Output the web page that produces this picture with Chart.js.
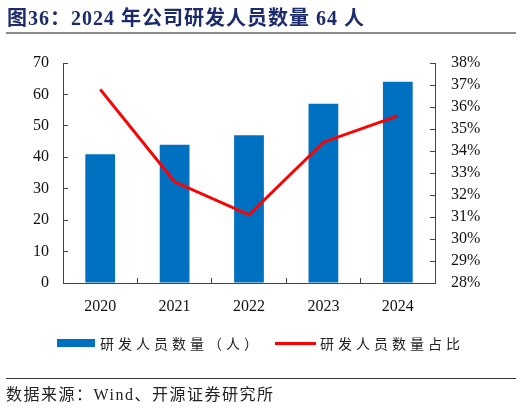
<!DOCTYPE html>
<html>
<head>
<meta charset="utf-8">
<script src="https://cdn.jsdelivr.net/npm/chart.js@4"></script>
<style>
    body { margin: 0; background: #fff; }
    #wrap { position: relative; width: 522px; height: 408px; overflow: hidden; }
    #chart { position: absolute; left: 0; top: 0; }
    .titulo { position: absolute; left: 7px; top: 2px; font: bold 20px "Liberation Serif", "Noto Sans CJK SC"; color: #1b2b6b; white-space: nowrap; letter-spacing: 1px; }
    .regla { position: absolute; left: 6px; width: 510px; }
    .leyenda { position: absolute; top: 333px; left: 0; width: 522px; height: 20px; font: 14px "Noto Sans CJK SC"; color: #222; letter-spacing: 4px; }
    .fuente { position: absolute; left: 6px; top: 381px; font: 16px "Liberation Serif", "Noto Sans CJK SC"; color: #222; letter-spacing: 1.5px; white-space: nowrap; }
</style>
</head>
<body>
<div id="wrap">
    <canvas id="chart" width="522" height="408"></canvas>
    <div class="titulo">图36：2024 年公司研发人员数量 64 人</div>
    <div class="regla" style="top:32px;height:2px;background:#8a8a8a"></div>
    <div class="leyenda" id="leyenda"></div>
    <div class="regla" style="top:378px;height:1px;background:#333"></div>
    <div class="fuente">数据来源：Wind、开源证券研究所</div>
</div>
<script>
// Datos del gráfico
const years = ['2020', '2021', '2022', '2023', '2024'];
const staffName = '研发人员数量（人）';
const ratioName = '研发人员数量占比';
const rdStaff = [41, 44, 47, 57, 64];          // personas
const rdRatio = [36.8, 32.6, 31.1, 34.4, 35.6]; // %
const staffTicks = [0, 10, 20, 30, 40, 50, 60, 70];
const ratioTicks = [28, 29, 30, 31, 32, 33, 34, 35, 36, 37, 38];

const azul = '#0070c0';
const rojo = '#ff0000';
const fuenteNum = { family: 'Liberation Serif', size: 16 };

// Leyenda en HTML
const leyenda = document.getElementById('leyenda');
leyenda.innerHTML =
    '<span style="position:absolute;left:57px;top:6px;width:38px;height:8px;background:' + azul + '"></span>' +
    '<span style="position:absolute;left:100px;top:0">' + staffName + '</span>' +
    '<span style="position:absolute;left:275px;top:9px;width:41px;height:3px;background:' + rojo + '"></span>' +
    '<span style="position:absolute;left:320px;top:0">' + ratioName + '</span>';

const ctx = document.getElementById('chart').getContext('2d');

new Chart(ctx, {
    data: {
        labels: years,
        datasets: [
            {
                type: 'line',
                label: ratioName,
                data: rdRatio,
                yAxisID: 'y1',
                borderColor: rojo,
                borderWidth: 3,
                pointRadius: 0,
                tension: 0,
                order: 0
            },
            {
                type: 'bar',
                label: staffName,
                data: rdStaff,
                yAxisID: 'y',
                backgroundColor: azul,
                barPercentage: 0.4,
                categoryPercentage: 1,
                order: 1
            }
        ]
    },
    options: {
        responsive: false,
        animation: false,
        layout: { padding: { top: 63, left: 0, right: 0, bottom: 0 } },
        plugins: { legend: { display: false }, tooltip: { enabled: false } },
        scales: {
            x: {
                grid: { offset: true, drawOnChartArea: false, tickLength: -5, color: '#444' },
                border: { color: '#444', width: 1 },
                ticks: { font: fuenteNum, color: '#111', padding: 19 },
                afterFit: function (s) { s.height = 125; }
            },
            y: {
                position: 'left',
                min: 0, max: 70,
                afterBuildTicks: function (s) { s.ticks = staffTicks.map(v => ({ value: v })); },
                grid: { drawOnChartArea: false, tickLength: -5, color: '#444' },
                border: { color: '#444', width: 1 },
                ticks: { font: fuenteNum, color: '#111', padding: 19, autoSkip: false },
                afterFit: function (s) { s.width = 63; }
            },
            y1: {
                position: 'right',
                min: 28, max: 38,
                afterBuildTicks: function (s) { s.ticks = ratioTicks.map(v => ({ value: v })); },
                grid: { drawOnChartArea: false, tickLength: -5, color: '#444' },
                border: { color: '#444', width: 1 },
                ticks: { font: fuenteNum, color: '#111', padding: 21, autoSkip: false, callback: v => v + '%' },
                afterFit: function (s) { s.width = 87; }
            }
        }
    }
});
</script>
</body>
</html>
